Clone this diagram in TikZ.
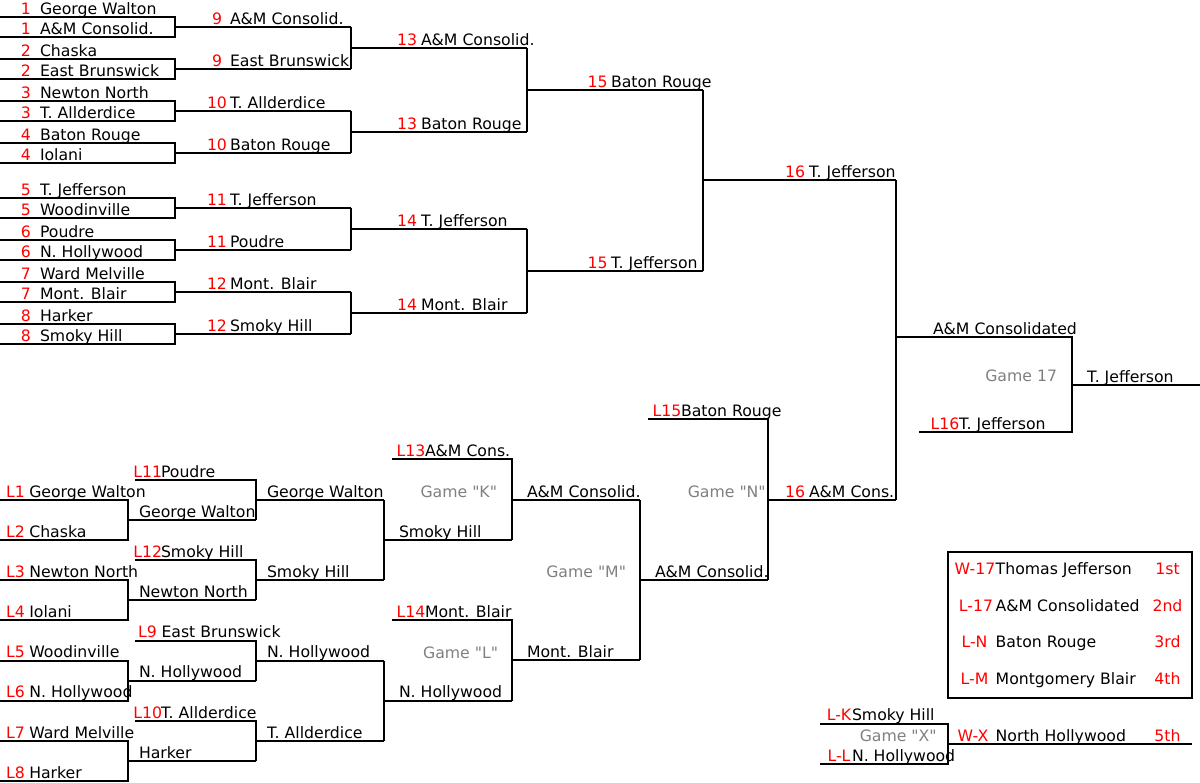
\documentclass[tikz,border=0pt]{standalone}
\usepackage{fontspec}
\newfontfamily\dv{DejaVu Sans}
\newcount\nidx
\tikzset{
  br/.style={line width=2pt, line join=miter},
  every node/.style={font=\dv\fontsize{15.7}{18}\selectfont, inner sep=0pt, outer sep=0pt},
  rc/.style={text=red, anchor=base},
  nm/.style={text=black, anchor=base west},
  gm/.style={text=black!50, anchor=base east},
  plc/.style={text=red, anchor=base}
}
% red code centred at #1, name at #3, line at #4
\newcommand\Lb[5]{%
  \global\advance\nidx by 1
  \node[rc] (r\the\nidx) at (#1,#4-2.8) {#2};%
  \node[nm] (m\the\nidx) at (#3,#4-2.8) {#5};}
\newcommand\Nm[3]{%
  \global\advance\nidx by 1
  \node[nm] (m\the\nidx) at (#1,#2-2.8) {#3};}
\begin{document}
\begin{tikzpicture}[x=1pt,y=-1pt]
\useasboundingbox (0,0) rectangle (1200,783);
% ---------------- winners bracket ----------------
\draw[br] (0,17)--(175,17)--(175,37)--(0,37) (175,27)--(351,27);
\draw[br] (0,59)--(175,59)--(175,79)--(0,79) (175,69)--(351,69);
\draw[br] (0,101)--(175,101)--(175,121)--(0,121) (175,111)--(351,111);
\draw[br] (0,143)--(175,143)--(175,163)--(0,163) (175,153)--(351,153);
\draw[br] (0,198)--(175,198)--(175,218)--(0,218) (175,208)--(351,208);
\draw[br] (0,240)--(175,240)--(175,260)--(0,260) (175,250)--(351,250);
\draw[br] (0,282)--(175,282)--(175,302)--(0,302) (175,292)--(351,292);
\draw[br] (0,324)--(175,324)--(175,344)--(0,344) (175,334)--(351,334);
\draw[br] (351,27)--(351,69) (351,48)--(527,48);
\draw[br] (351,111)--(351,153) (351,132)--(527,132);
\draw[br] (351,208)--(351,250) (351,229)--(527,229);
\draw[br] (351,292)--(351,334) (351,313)--(527,313);
\draw[br] (527,48)--(527,132) (527,90)--(703,90);
\draw[br] (527,229)--(527,313) (527,271)--(703,271);
\draw[br] (703,90)--(703,271) (703,180.5)--(896,180.5);
\draw[br] (896,180.5)--(896,500);
\draw[br] (896,337)--(1072,337)--(1072,432)--(919,432) (1072,385)--(1200,385);
% labels round 1
\Lb{25.8}{1}{40}{17}{George Walton}
\Lb{25.8}{1}{40}{37}{A\&M Consolid.}
\Lb{25.8}{2}{40}{59}{Chaska}
\Lb{25.8}{2}{40}{79}{East Brunswick}
\Lb{25.8}{3}{40}{101}{Newton North}
\Lb{25.8}{3}{40}{121}{T. Allderdice}
\Lb{25.8}{4}{40}{143}{Baton Rouge}
\Lb{25.8}{4}{40}{163}{Iolani}
\Lb{25.8}{5}{40}{198}{T. Jefferson}
\Lb{25.8}{5}{40}{218}{Woodinville}
\Lb{25.8}{6}{40}{240}{Poudre}
\Lb{25.8}{6}{40}{260}{N. Hollywood}
\Lb{25.8}{7}{40}{282}{Ward Melville}
\Lb{25.8}{7}{40}{302}{Mont. Blair}
\Lb{25.8}{8}{40}{324}{Harker}
\Lb{25.8}{8}{40}{344}{Smoky Hill}
% round 2
\Lb{217}{9}{230}{27}{A\&M Consolid.}
\Lb{217}{9}{230}{69}{East Brunswick}
\Lb{217}{10}{230}{111}{T. Allderdice}
\Lb{217}{10}{230}{153}{Baton Rouge}
\Lb{217}{11}{230}{208}{T. Jefferson}
\Lb{217}{11}{230}{250}{Poudre}
\Lb{217}{12}{230}{292}{Mont. Blair}
\Lb{217}{12}{230}{334}{Smoky Hill}
% round 3
\Lb{407}{13}{421}{48}{A\&M Consolid.}
\Lb{407}{13}{421}{132}{Baton Rouge}
\Lb{407}{14}{421}{229}{T. Jefferson}
\Lb{407}{14}{421}{313}{Mont. Blair}
% round 4
\Lb{597.7}{15}{611}{90}{Baton Rouge}
\Lb{597.7}{15}{611}{271}{T. Jefferson}
\Lb{795}{16}{809}{180.5}{T. Jefferson}
% final
\Nm{933}{337}{A\&M Consolidated}
\Lb{945}{L16}{959}{432}{T. Jefferson}
\Nm{1087}{385}{T. Jefferson}
\node[gm] (g17) at (1057,381.5) {Game 17};
% ---------------- losers bracket ----------------
\draw[br] (0,500)--(128,500)--(128,540)--(0,540) (128,520)--(256,520);
\draw[br] (135,480)--(256,480)--(256,520) (256,500)--(384,500);
\draw[br] (0,580)--(128,580)--(128,620)--(0,620) (128,600)--(256,600);
\draw[br] (135,560)--(256,560)--(256,600) (256,580)--(384,580);
\draw[br] (384,500)--(384,580) (384,540)--(512,540);
\draw[br] (0,660.5)--(128,660.5)--(128,700.5)--(0,700.5) (128,680.5)--(256,680.5);
\draw[br] (135,640.5)--(256,640.5)--(256,680.5) (256,660.5)--(384,660.5);
\draw[br] (0,741)--(128,741)--(128,781)--(0,781) (128,761)--(256,761);
\draw[br] (135,721)--(256,721)--(256,761) (256,741)--(384,741);
\draw[br] (384,660.5)--(384,741) (384,700.5)--(512,700.5);
\draw[br] (392,459.5)--(512,459.5)--(512,540) (512,500)--(640,500);
\draw[br] (392,620)--(512,620)--(512,700.5) (512,660)--(640,660);
\draw[br] (640,500)--(640,660) (640,580)--(768,580);
\draw[br] (648,419)--(768,419)--(768,580) (768,500)--(896,500);
\Lb{15.5}{L1}{29.3}{500}{George Walton}
\Lb{15.5}{L2}{29.3}{540}{Chaska}
\Lb{15.5}{L3}{29.3}{580}{Newton North}
\Lb{15.5}{L4}{29.3}{620}{Iolani}
\Lb{15.5}{L5}{29.3}{660.5}{Woodinville}
\Lb{15.5}{L6}{29.3}{700.5}{N. Hollywood}
\Lb{15.5}{L7}{29.3}{741}{Ward Melville}
\Lb{15.5}{L8}{29.3}{781}{Harker}
\Lb{147.8}{L11}{161}{480}{Poudre}
\Lb{147.8}{L12}{161}{560}{Smoky Hill}
\Lb{147.5}{L9}{161.5}{640.5}{East Brunswick}
\Lb{147.8}{L10}{161}{721}{T. Allderdice}
\Nm{139}{520}{George Walton}
\Nm{139}{600}{Newton North}
\Nm{139}{680.5}{N. Hollywood}
\Nm{139}{761}{Harker}
\Nm{267}{500}{George Walton}
\Nm{267}{580}{Smoky Hill}
\Nm{267}{660.5}{N. Hollywood}
\Nm{267}{741}{T. Allderdice}
\Nm{399}{540}{Smoky Hill}
\Nm{399}{700.5}{N. Hollywood}
\Lb{411}{L13}{425}{459.5}{A\&M Cons.}
\Lb{411}{L14}{425}{620}{Mont. Blair}
\Nm{527}{500}{A\&M Consolid.}
\Nm{527}{660}{Mont. Blair}
\Nm{655}{580}{A\&M Consolid.}
\Lb{667}{L15}{681}{419}{Baton Rouge}
\Lb{795}{16}{809}{500}{A\&M Cons.}
\node[gm] (gK) at (497,497.2) {Game "K"};
\node[gm] (gL) at (498,658.2) {Game "L"};
\node[gm] (gM) at (626,577.2) {Game "M"};
\node[gm] (gN) at (765.7,497.2) {Game "N"};
% ---------------- game X ----------------
\draw[br] (820,723.5)--(948,723.5)--(948,764)--(820,764) (948,743.5)--(1192,743.5);
\Lb{839}{L-K}{852}{723.5}{Smoky Hill}
\Lb{839}{L-L}{852}{764}{N. Hollywood}
\node[gm] (gX) at (936.7,741.5) {Game "X"};
% ---------------- legend ----------------
\draw[br] (948,552) rectangle (1192,697.5);
\node[rc] (c1) at (975,574.5) {W-17};
\node[nm] (t1) at (995.7,574.5) {Thomas Jefferson};
\node[plc] (p1) at (1167.5,574.5) {1st};
\node[rc] (c2) at (976,611.5) {L-17};
\node[nm] (t2) at (995.7,611.5) {A\&M Consolidated};
\node[plc] (p2) at (1167.5,611.5) {2nd};
\node[rc] (c3) at (974.5,647.8) {L-N};
\node[nm] (t3) at (995.7,647.8) {Baton Rouge};
\node[plc] (p3) at (1167.5,647.8) {3rd};
\node[rc] (c4) at (974.5,684.5) {L-M};
\node[nm] (t4) at (995.7,684.5) {Montgomery Blair};
\node[plc] (p4) at (1167.5,684.5) {4th};
\node[rc] (c5) at (973,741.5) {W-X};
\node[nm] (t5) at (995.7,741.5) {North Hollywood};
\node[plc] (p5) at (1167.5,741.5) {5th};
\end{tikzpicture}
\end{document}
